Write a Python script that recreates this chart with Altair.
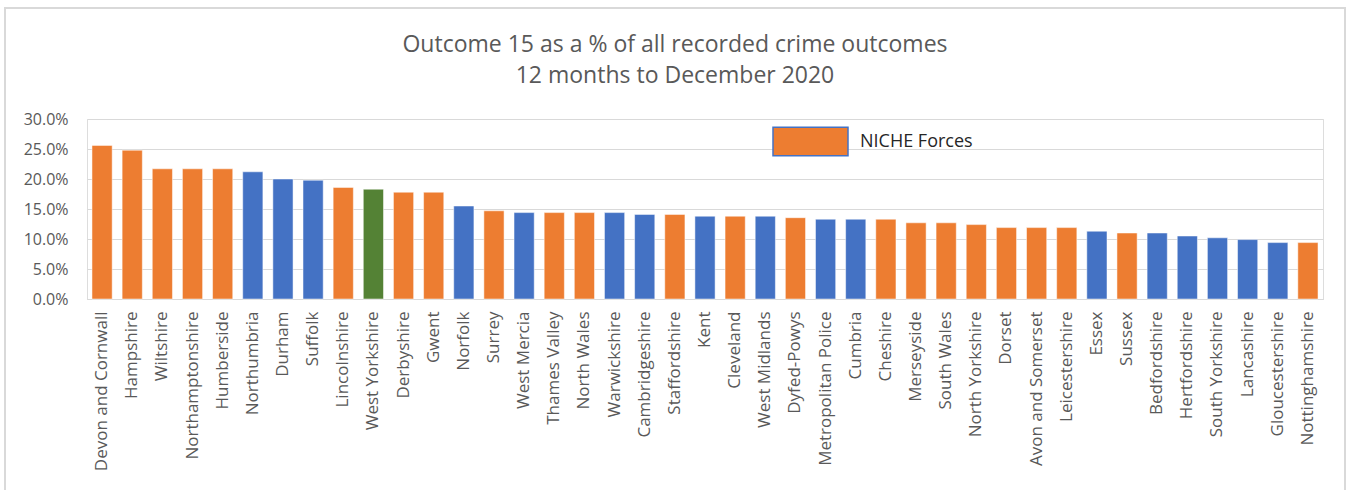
import altair as alt
import pandas as pd

forces = [
    "Devon and Cornwall", "Hampshire", "Wiltshire", "Northamptonshire", "Humberside",
    "Northumbria", "Durham", "Suffolk", "Lincolnshire", "West Yorkshire",
    "Derbyshire", "Gwent", "Norfolk", "Surrey", "West Mercia",
    "Thames Valley", "North Wales", "Warwickshire", "Cambridgeshire", "Staffordshire",
    "Kent", "Cleveland", "West Midlands", "Dyfed-Powys", "Metropolitan Police",
    "Cumbria", "Cheshire", "Merseyside", "South Wales", "North Yorkshire",
    "Dorset", "Avon and Somerset", "Leicestershire", "Essex", "Sussex",
    "Bedfordshire", "Hertfordshire", "South Yorkshire", "Lancashire", "Gloucestershire",
    "Nottinghamshire",
]
values = [
    0.256, 0.248, 0.217, 0.217, 0.217,
    0.212, 0.200, 0.198, 0.186, 0.183,
    0.178, 0.178, 0.155, 0.147, 0.144,
    0.144, 0.144, 0.144, 0.141, 0.141,
    0.138, 0.138, 0.138, 0.1355, 0.133,
    0.133, 0.133, 0.127, 0.127, 0.124,
    0.119, 0.119, 0.119, 0.113, 0.110,
    0.110, 0.105, 0.102, 0.099, 0.094,
    0.094,
]
N, O, W = "NICHE Forces", "Other Forces", "West Yorkshire"
groups = [
    N, N, N, N, N,
    O, O, O, N, W,
    N, N, O, N, O,
    N, N, O, O, N,
    O, N, O, N, O,
    O, N, N, N, N,
    N, N, N, O, N,
    O, O, O, O, O,
    N,
]
group_domain = [N, O, W]
group_colors = ["#ED7D31", "#4472C4", "#548235"]

df = pd.DataFrame({"force": forces, "value": values, "group": groups})

FONT = "Open Sans"
GREY = "#595959"

bars = alt.Chart(df).mark_bar(stroke="white", strokeWidth=0.5).encode(
    x=alt.X(
        "force:N",
        sort=forces,
        title=None,
        scale=alt.Scale(paddingInner=0.33, paddingOuter=0.165),
        axis=alt.Axis(
            labelAngle=-90, labelAlign="right", labelBaseline="middle",
            labelPadding=12, ticks=False, domain=True, domainColor="#d9d9d9",
            labelFontSize=17, labelColor=GREY, labelFont=FONT, labelLimit=300,
        ),
    ),
    y=alt.Y(
        "value:Q",
        title=None,
        scale=alt.Scale(domain=[0, 0.30], nice=False),
        axis=alt.Axis(
            format=".1%", values=[0, 0.05, 0.10, 0.15, 0.20, 0.25, 0.30],
            ticks=False, domain=False, gridColor="#d9d9d9", gridWidth=1.2,
            labelFontSize=16, labelColor=GREY, labelFont=FONT, labelPadding=19,
        ),
    ),
    color=alt.Color(
        "group:N",
        scale=alt.Scale(domain=group_domain, range=group_colors),
        legend=alt.Legend(
            title=None, values=[N], orient="none", legendX=685, legendY=-16,
            symbolType="M-1,-0.38H1V0.38H-1Z", symbolSize=5625,
            symbolStrokeColor="#4472C4", symbolStrokeWidth=1.5, symbolOpacity=1,
            labelFontSize=18, labelFont=FONT, labelColor="#262626", labelOffset=11,
        ),
    ),
)

border = alt.Chart(pd.DataFrame({"a": [0]})).mark_rect(
    fill=None, stroke="#d9d9d9", strokeWidth=2
).encode(
    x=alt.value(-82), x2=alt.value(1258), y=alt.value(-111), y2=alt.value(420)
)

chart = alt.layer(border, bars).properties(
    width=1236,
    height=180,
    autosize=alt.AutoSizeParams(type="none"),
    padding={"left": 87, "top": 119, "right": 29, "bottom": 191},
    title=alt.TitleParams(
        text=["Outcome 15 as a % of all recorded crime outcomes", "12 months to December 2020"],
        font=FONT, fontSize=23, fontWeight="normal", color=GREY,
        anchor="middle", frame="bounds", offset=-81, lineHeight=31,
    ),
).configure_view(stroke=None).configure(background="white")

chart.save("out.html", embed_options={"renderer": "svg", "actions": False})
